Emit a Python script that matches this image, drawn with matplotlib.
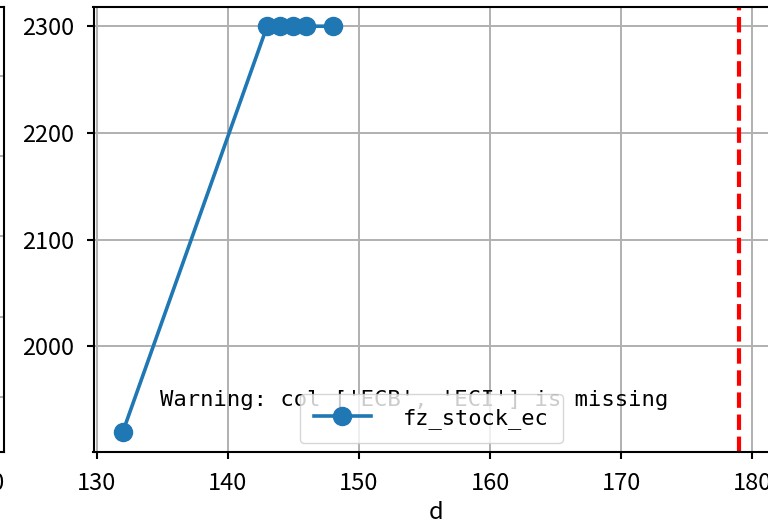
import matplotlib
matplotlib.use("Agg")
import matplotlib.pyplot as plt

plt.rcParams['font.family'] = ['Noto Sans CJK SC', 'DejaVu Sans']

# data
d_vals = [132, 143, 144, 145, 146, 148]
stock_vals = [1920, 2300, 2300, 2300, 2300, 2300]
cutoff_d = 179
series_name = "fz_stock_ec"
warn_msg = "Warning: col ['ECB', 'ECI'] is missing"
x_ticks = [130, 140, 150, 160, 170, 180]
y_ticks = [2000, 2100, 2200, 2300]

# neighbouring panel (only its right edge is visible)
left_ticks = [0, 1, 2, 3, 4]
left_xtick = [180]

W, H = 768, 525
fig = plt.figure(figsize=(W / 100, H / 100), dpi=100)

# left panel sliver
ax0 = fig.add_axes([-300 / W, 73 / H, 303.5 / W, 445 / H])
ax0.set_ylim(-0.688, 4.86)
ax0.set_yticks(left_ticks)
ax0.set_yticklabels([])
ax0.set_xlim(0, 100)
ax0.set_xticks([94])
ax0.set_xticklabels([str(v) for v in left_xtick], fontsize=17)
ax0.grid(True, color='#b0b0b0', lw=1.4)
for s in ax0.spines.values():
    s.set_linewidth(1.5)
ax0.tick_params(width=1.5, length=5, pad=9.5)

# main panel
ax = fig.add_axes([93.5 / W, 73 / H, 685 / W, 445 / H])
ax.plot(d_vals, stock_vals, marker='o', color='#1f77b4', lw=2.6, ms=13, label=series_name)
ax.axvline(cutoff_d, color='red', ls='--', lw=3)
ax.set_xlim(129.76, 182)
ax.set_ylim(1901, 2318)
ax.set_xticks(x_ticks)
ax.set_yticks(y_ticks)
ax.tick_params(labelsize=17, width=1.5, length=5)
ax.tick_params(axis='x', pad=9.5)
ax.tick_params(axis='y', pad=9)
ax.set_xlabel("d", fontsize=17, labelpad=4)
ax.grid(True, color='#b0b0b0', lw=1.4)
for s in ax.spines.values():
    s.set_linewidth(1.5)

ax.text(0.468, 0.117, warn_msg, transform=ax.transAxes, ha='center', va='center',
        fontsize=16, family='DejaVu Sans Mono')
ax.legend(loc='lower center', bbox_to_anchor=(0.493, 0.0), handlelength=2.6,
          handletextpad=1.45, borderpad=0.65, borderaxespad=0.4,
          prop={'family': 'DejaVu Sans Mono', 'size': 15.8})

fig.savefig("out.png", dpi=100)
